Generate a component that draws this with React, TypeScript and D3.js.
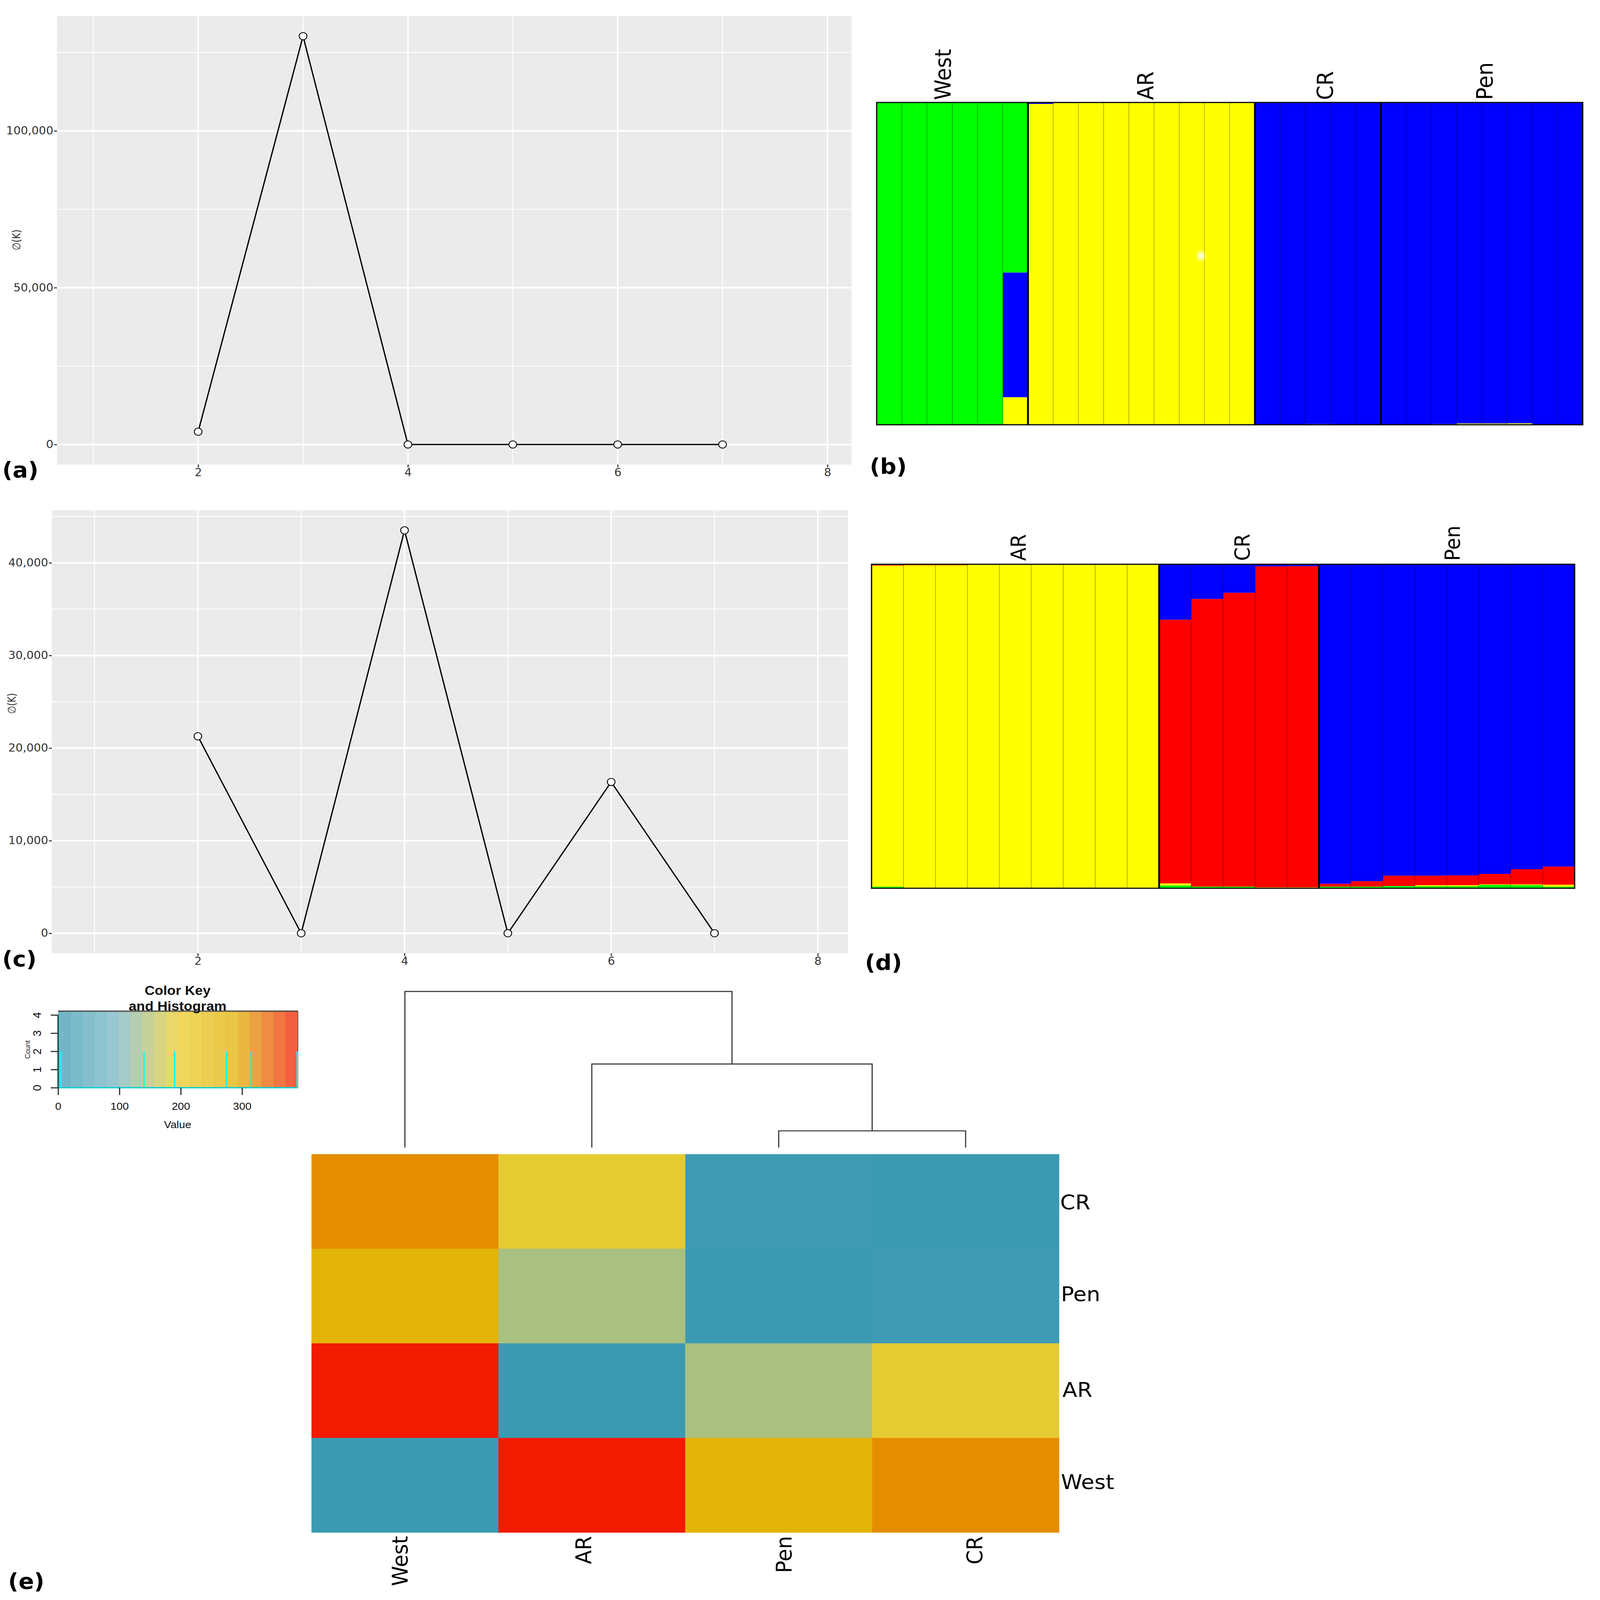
import { useEffect, useRef } from "react";
import * as d3 from "d3";

// delta K line plots
const kValues = [2, 3, 4, 5, 6, 7];
const deltaA = [4080, 130190, 0, 0, 0, 0];
const deltaC = [21270, 0, 43510, 0, 16340, 0];
const xMajor = [2, 4, 6, 8];
const xMinor = [1, 3, 5, 7];
const yMajorA = [0, 50000, 100000];
const yMinorA = [25000, 75000, 125000];
const yMajorC = [0, 10000, 20000, 30000, 40000];
const yMinorC = [5000, 15000, 25000, 35000, 45000];

// structure bar plot (b), share per individual, stacked from the bottom
const bGroups = ["West", "AR", "CR", "Pen"];
const bGroupSizes = [6, 9, 5, 8];
const bYellow = [0, 0, 0, 0, 0.002, 0.0855, 0.9955, 0.998, 1, 1, 1, 1, 1, 1, 1, 0, 0, 0.002, 0, 0, 0, 0, 0.002, 0.004, 0.004, 0.0045, 0, 0];
const bBlue = [0, 0, 0, 0, 0, 0.387, 0.0045, 0.002, 0, 0, 0, 0, 0, 0, 0, 1, 1, 0.998, 1, 1, 1, 1, 0.998, 0.996, 0.996, 0.9955, 1, 1];
const bGreen = [1, 1, 1, 1, 0.998, 0.5275, 0, 0, 0, 0, 0, 0, 0, 0, 0, 0, 0, 0, 0, 0, 0, 0, 0, 0, 0, 0, 0, 0];

// structure bar plot (d)
const dGroups = ["AR", "CR", "Pen"];
const dGroupSizes = [9, 5, 8];
const dGreen = [0.005, 0, 0, 0, 0, 0, 0, 0, 0, 0.009, 0.005, 0.005, 0, 0, 0.005, 0.005, 0.007, 0.006, 0.006, 0.0105, 0.01, 0.005];
const dYellow = [0.991, 0.997, 0.997, 1, 1, 1, 1, 1, 1, 0.006, 0, 0, 0.003, 0.003, 0, 0, 0, 0.0035, 0.0035, 0.0015, 0.002, 0.006];
const dRed = [0.002, 0.003, 0.003, 0, 0, 0, 0, 0, 0, 0.814, 0.888, 0.907, 0.9906, 0.9912, 0.009, 0.017, 0.032, 0.0295, 0.0305, 0.0325, 0.047, 0.056];
const dBlue = [0.002, 0, 0, 0, 0, 0, 0, 0, 0, 0.171, 0.107, 0.088, 0.0064, 0.0058, 0.986, 0.978, 0.961, 0.961, 0.96, 0.9555, 0.941, 0.933];

// heatmap (e)
const heatCols = ["West", "AR", "Pen", "CR"];
const heatRows = ["CR", "Pen", "AR", "West"];
const heatValues = [
  [315, 190, 5, 0],
  [275, 140, 0, 5],
  [390, 0, 140, 190],
  [0, 390, 275, 315],
];
const zissou = ["#3B9AB2", "#78B7C5", "#EBCC2A", "#E1AF00", "#F21A00"];
const histValues = [0, 5, 140, 190, 275, 315, 390];
const histCounts = [4, 2, 2, 2, 2, 2, 2];
const mergeHeights = [35, 175, 327];

const SANS = "'DejaVu Sans'";
const ARIAL = "'Liberation Sans'";

function linePanel(svg: any, opts: any) {
  const { left, right, top, bottom, xDomain, yDomain, values, major, minor, labelY, labelEnd } = opts;
  const x = d3.scaleLinear().domain(xDomain).range([left, right]);
  const y = d3.scaleLinear().domain(yDomain).range([bottom, top]);
  const g = svg.append("g");

  g.append("rect").attr("x", left).attr("y", top).attr("width", right - left).attr("height", bottom - top).attr("fill", "#EBEBEB");

  const grid = (cls: string, vals: number[], w: number, horiz: boolean) =>
    g.selectAll("line." + cls).data(vals).join("line").attr("class", cls)
      .attr("x1", (d: number) => (horiz ? left : x(d)))
      .attr("x2", (d: number) => (horiz ? right : x(d)))
      .attr("y1", (d: number) => (horiz ? y(d) : top))
      .attr("y2", (d: number) => (horiz ? y(d) : bottom))
      .attr("stroke", "#fff").attr("stroke-width", w);
  grid("vmin", xMinor, 2.5, false);
  grid("hmin", minor, 2.5, true);
  grid("vmaj", xMajor, 4, false);
  grid("hmaj", major, 5, true);

  const line = d3.line<number>().x((_, i) => x(kValues[i])).y((d) => y(d));
  g.append("path").attr("d", line(values)).attr("fill", "none").attr("stroke", "#000").attr("stroke-width", 3.5);

  g.selectAll("circle").data(values).join("circle")
    .attr("cx", (_: number, i: number) => x(kValues[i]))
    .attr("cy", (d: number) => y(d))
    .attr("r", 10.5).attr("fill", "#fff").attr("stroke", "#111").attr("stroke-width", 2.5);

  const xAxis = g.append("g").attr("transform", `translate(0,${bottom})`)
    .call(d3.axisBottom(x).tickValues(xMajor).tickSize(8).tickPadding(3).tickFormat(d3.format("d") as any));
  const yAxis = g.append("g").attr("transform", `translate(${left},0)`)
    .call(d3.axisLeft(y).tickValues(major).tickSize(8).tickPadding(2).tickFormat(d3.format(",") as any));
  [xAxis, yAxis].forEach((a) => {
    a.select(".domain").remove();
    a.selectAll("line").attr("stroke", "#333").attr("stroke-width", 3);
    a.selectAll("text").attr("font-family", SANS).attr("font-size", 31).attr("fill", "#333");
  });

  g.append("text")
    .attr("transform", `translate(${labelEnd},${labelY}) rotate(-90)`)
    .attr("text-anchor", "middle").attr("font-family", SANS).attr("font-size", 30).attr("fill", "#333")
    .attr("textLength", 60).attr("lengthAdjust", "spacingAndGlyphs")
    .text("\u2205(K)");
}

function structurePanel(svg: any, opts: any) {
  const { left, right, top, bottom, keys, shares, colors, sizes, groups, labelX, labelY, fontSize } = opts;
  const n = shares[0].length;
  const rows = d3.range(n).map((i) => {
    const r: any = { ind: i };
    keys.forEach((k: string, j: number) => (r[k] = shares[j][i]));
    return r;
  });
  const x = d3.scaleBand<number>().domain(d3.range(n)).range([left, right]);
  const y = d3.scaleLinear().domain([0, 1]).range([bottom, top]);
  const stack = d3.stack().keys(keys)(rows);
  const g = svg.append("g");

  g.selectAll("g.layer").data(stack).join("g").attr("class", "layer")
    .attr("fill", (d: any) => colors[d.key])
    .selectAll("rect").data((d: any) => d).join("rect")
    .attr("x", (d: any) => x(d.data.ind)!)
    .attr("width", x.bandwidth() + 0.5)
    .attr("y", (d: any) => y(d[1]))
    .attr("height", (d: any) => y(d[0]) - y(d[1]));

  g.selectAll("line.ind").data(d3.range(1, n)).join("line").attr("class", "ind")
    .attr("x1", (d: number) => x(d)!).attr("x2", (d: number) => x(d)!)
    .attr("y1", top).attr("y2", bottom)
    .attr("stroke", "#000").attr("stroke-opacity", 0.3).attr("stroke-width", 2);

  const cuts = d3.cumsum(sizes).slice(0, -1) as unknown as number[];
  g.selectAll("line.grp").data(Array.from(cuts)).join("line").attr("class", "grp")
    .attr("x1", (d: number) => x(d)!).attr("x2", (d: number) => x(d)!)
    .attr("y1", top).attr("y2", bottom)
    .attr("stroke", "#000").attr("stroke-width", 5);

  g.append("rect").attr("x", left).attr("y", top).attr("width", right - left).attr("height", bottom - top)
    .attr("fill", "none").attr("stroke", "#111").attr("stroke-width", 3.5);

  groups.forEach((name: string, i: number) => {
    g.append("text")
      .attr("transform", `translate(${labelX[i]},${labelY}) rotate(-90)`)
      .attr("font-family", SANS).attr("font-size", fontSize).attr("fill", "#000")
      .text(name);
  });
  return { x, y, g };
}

function colorKey(svg: any, color: any) {
  const left = 158, right = 810, top = 2921, bottom = 3142;
  const x = d3.scaleLinear().domain([0, 391]).range([left, right]);
  const y = d3.scaleLinear().domain([0, 4]).range([bottom, 2932]);
  const g = svg.append("g");

  const bins = d3.range(0, 391, 19.55);
  g.selectAll("rect.bin").data(bins).join("rect").attr("class", "bin")
    .attr("x", (d: number) => x(d)).attr("width", x(19.55) - x(0) + 0.6)
    .attr("y", top).attr("height", bottom - top)
    .attr("fill", (d: number) => color(d + 9.8)).attr("fill-opacity", 0.74);

  g.append("line").attr("x1", left).attr("x2", right).attr("y1", top).attr("y2", top).attr("stroke", "#333").attr("stroke-opacity", 0.8).attr("stroke-width", 4);
  g.append("line").attr("x1", right).attr("x2", right).attr("y1", top).attr("y2", bottom).attr("stroke", "#555").attr("stroke-width", 2);

  g.selectAll("line.hist").data(histValues).join("line").attr("class", "hist")
    .attr("x1", (d: number) => x(d)).attr("x2", (d: number) => x(d))
    .attr("y1", bottom).attr("y2", (_: number, i: number) => y(histCounts[i]))
    .attr("stroke", "#00FFFF").attr("stroke-width", 4);
  g.append("line").attr("x1", left).attr("x2", right).attr("y1", bottom).attr("y2", bottom).attr("stroke", "#12CFCF").attr("stroke-width", 4);

  const xAxis = g.append("g").attr("transform", `translate(0,${bottom})`)
    .call(d3.axisBottom(x).tickValues([0, 100, 200, 300]).tickSize(21).tickPadding(22).tickFormat(d3.format("d") as any));
  const yAxis = g.append("g").attr("transform", `translate(${left},0)`)
    .call(d3.axisLeft(y).tickValues([0, 1, 2, 3, 4]).tickSize(20).tickFormat(d3.format("d") as any));
  [xAxis, yAxis].forEach((a) => {
    a.select(".domain").remove();
    a.selectAll("line").attr("stroke", "#222").attr("stroke-width", 3);
    a.selectAll("text").attr("font-family", ARIAL).attr("font-size", 30).attr("fill", "#111");
  });
  // R style: y tick labels stand rotated beside the ticks
  yAxis.selectAll("text")
    .attr("x", 0).attr("y", 0).attr("dy", 0)
    .attr("transform", "translate(-46,0) rotate(-90)")
    .attr("text-anchor", "middle").attr("font-size", 32);
  yAxis.append("line").attr("y1", y(4)).attr("y2", bottom).attr("stroke", "#222").attr("stroke-width", 3);

  const label = (t: string, tx: number, ty: number, size: number, weight = "normal") =>
    g.append("text").attr("x", tx).attr("y", ty).attr("text-anchor", "middle")
      .attr("font-family", ARIAL).attr("font-size", size).attr("font-weight", weight).attr("fill", "#111").text(t);
  label("Color Key", 483, 2874, 38, "bold");
  label("and Histogram", 483, 2919, 38, "bold");
  label("Value", 483, 3259, 30);
  g.append("text").attr("transform", "translate(82,3032) rotate(-90)").attr("text-anchor", "middle")
    .attr("font-family", ARIAL).attr("font-size", 20).attr("fill", "#222").text("Count");
}

function heatmap(svg: any, color: any) {
  const x = d3.scaleBand().domain(heatCols).range([847, 2880]);
  const yi = d3.scaleBand<number>().domain(d3.range(heatRows.length)).range([3334, 4427]);
  const g = svg.append("g");

  heatRows.forEach((_, r) => {
    heatCols.forEach((c, k) => {
      g.append("rect").attr("x", x(c)).attr("y", yi(r)).attr("width", x.bandwidth() + 0.5).attr("height", yi.bandwidth() + 0.5)
        .attr("fill", color(heatValues[r][k]));
    });
  });

  // dendrogram built from the merge heights
  const h = d3.scaleLinear().domain([0, mergeHeights[2]]).range([3315, 2864]);
  const cx = (c: string) => x(c)! + x.bandwidth() / 2;
  const merge = (a: number, aTop: number, b: number, bTop: number, height: number) => {
    const path = d3.path();
    path.moveTo(a, aTop);
    path.lineTo(a, h(height));
    path.lineTo(b, h(height));
    path.lineTo(b, bTop);
    g.append("path").attr("d", path.toString()).attr("fill", "none").attr("stroke", "#333").attr("stroke-width", 3);
    return (a + b) / 2;
  };
  const m1 = merge(cx("Pen"), h(0), cx("CR"), h(0), mergeHeights[0]);
  const m2 = merge(cx("AR"), h(0), m1, h(mergeHeights[0]), mergeHeights[1]);
  merge(cx("West"), h(0), m2, h(mergeHeights[1]), mergeHeights[2]);

  const bottomLabelX = [1108, 1607, 2152, 2670];
  heatCols.forEach((c, i) => {
    g.append("text").attr("transform", `translate(${bottomLabelX[i]},4437) rotate(-90)`)
      .attr("text-anchor", "end").attr("font-family", SANS).attr("font-size", 59).attr("fill", "#000").text(c);
  });
  const rowLabelX = [2883, 2885, 2889, 2885];
  const rowLabelY = [3494, 3759, 4035, 4302];
  heatRows.forEach((c, i) => {
    g.append("text").attr("x", rowLabelX[i]).attr("y", rowLabelY[i])
      .attr("font-family", SANS).attr("font-size", 59).attr("fill", "#000").text(c);
  });
}

export default function App() {
  const svgRef = useRef<SVGSVGElement | null>(null);

  useEffect(() => {
    const svg = d3.select(svgRef.current);
    svg.selectAll("*").remove();
    svg.append("rect").attr("width", 4351).attr("height", 4622).attr("fill", "#fff");

    linePanel(svg, {
      left: 155, right: 2316, top: 46, bottom: 1342,
      xDomain: [0.654, 8.231], yDomain: [-6400, 136650],
      values: deltaA, major: yMajorA, minor: yMinorA, labelEnd: 55, labelY: 693,
    });
    linePanel(svg, {
      left: 141, right: 2306, top: 1474, bottom: 2754,
      xDomain: [0.587, 8.292], yDomain: [-2168, 45680],
      values: deltaC, major: yMajorC, minor: yMinorC, labelEnd: 42, labelY: 2032,
    });

    const b = structurePanel(svg, {
      left: 2384, right: 4304, top: 296, bottom: 1227,
      keys: ["yellow", "blue", "green"], shares: [bYellow, bBlue, bGreen],
      colors: { yellow: "#FFFF00", blue: "#0000FF", green: "#00FF00" },
      sizes: bGroupSizes, groups: bGroups, labelX: [2586, 3137, 3626, 4059], labelY: 289, fontSize: 60,
    });
    // bright speck on the scanned figure
    const defs = svg.append("defs");
    const glow = defs.append("radialGradient").attr("id", "speck");
    glow.append("stop").attr("offset", "0%").attr("stop-color", "#fff");
    glow.append("stop").attr("offset", "100%").attr("stop-color", "#fff").attr("stop-opacity", 0);
    b.g.append("ellipse")
      .attr("cx", b.x(12)! + 0.86 * b.x.bandwidth()).attr("cy", b.y(0.524))
      .attr("rx", 16).attr("ry", 20).attr("fill", "url(#speck)");

    structurePanel(svg, {
      left: 2370, right: 4282, top: 1630, bottom: 2566,
      keys: ["green", "yellow", "red", "blue"], shares: [dGreen, dYellow, dRed, dBlue],
      colors: { yellow: "#FFFF00", blue: "#0000FF", green: "#00FF00", red: "#FF0000" },
      sizes: dGroupSizes, groups: dGroups, labelX: [2790, 3398, 3970], labelY: 1620, fontSize: 56,
    });

    const color = d3.scaleLinear<string>().domain([0, 97.5, 195, 292.5, 390]).range(zissou).clamp(true);
    colorKey(svg, color);
    heatmap(svg, color);

    const tags: [string, number, number][] = [
      ["(a)", 6, 1379], ["(b)", 2365, 1369], ["(c)", 6, 2792],
      ["(d)", 2352, 2802], ["(e)", 22, 4589],
    ];
    svg.selectAll("text.tag").data(tags).join("text").attr("class", "tag")
      .attr("x", (d) => d[1]).attr("y", (d) => d[2]).text((d) => d[0])
      .attr("font-family", SANS).attr("font-weight", "bold").attr("font-size", 62).attr("fill", "#000");
  }, []);

  // the viewBox keeps the whole figure inside whatever window it is opened in
  return (
    <svg
      ref={svgRef}
      viewBox="0 0 4351 4622"
      preserveAspectRatio="none"
      style={{ position: "absolute", left: 0, top: 0, width: "100vw", height: "100vh", display: "block" }}
    />
  );
}
